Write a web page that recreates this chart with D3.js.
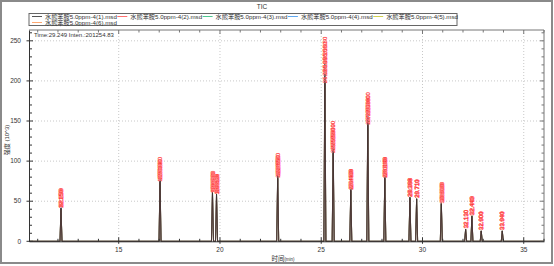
<!DOCTYPE html>
<html>
<head>
<meta charset="utf-8">
<script src="https://cdn.jsdelivr.net/npm/d3@7"></script>
<style>
  body { margin: 0; background: #fff; }
  svg { display: block; font-family: "Liberation Sans", "Noto Sans CJK SC", sans-serif; }
</style>
</head>
<body>
<svg id="canvas" width="554" height="266"></svg>
<script>
// peak retention times (min) and per-run heights (x10^3)
var peakTimes = [12.15, 17.04, 19.63, 19.83, 22.85, 25.18, 25.59, 26.46, 27.30, 28.14, 29.38, 29.71, 30.93, 32.13, 32.44, 32.90, 33.94]
var run1 = [42, 81, 64, 60, 86, 231, 126, 66, 162, 81, 55, 53, 50, 15, 32, 13, 13]
var run2 = [41, 76, 61, 58, 80, 205, 115, 64, 150, 79, 54, 53, 47, 15, 31, 13, 13]
var run3 = [40, 73, 59, 57, 78, 196, 109, 63, 144, 78, 55, 53, 46, 15, 32, 13, 13]
var run4 = [42, 79, 63, 59, 84, 220, 122, 65, 158, 80, 54, 53, 49, 15, 31, 13, 13]
var run5 = [41, 75, 60, 57, 81, 210, 112, 63, 147, 78, 55, 53, 47, 15, 32, 13, 13]
var run6 = [40, 78, 62, 60, 83, 225, 118, 66, 155, 81, 54, 53, 48, 15, 31, 13, 13]
var runNames = ['水熊苯胺5.0ppm-4(1).msd', '水熊苯胺5.0ppm-4(2).msd', '水熊苯胺5.0ppm-4(3).msd',
  '水熊苯胺5.0ppm-4(4).msd', '水熊苯胺5.0ppm-4(5).msd', '水熊苯胺5.0ppm-4(6).msd']
var xTicks = [15, 20, 25, 30, 35]
var yTicks = [0, 50, 100, 150, 200, 250]

var runs = [run1, run2, run3, run4, run5, run6]
var lineColors = ['#303030', '#b03030', '#2e9060', '#3a70c0', '#a8a030', '#e08040']
var legendColors = ['#555555', '#ff7070', '#50c890', '#60a8f0', '#d0d050', '#ffa870']

var svg = d3.select('#canvas')
// plot frame (window.top is read-only, so no "top" here)
var pLeft = 29, pRight = 544, pTop = 30, pBottom = 241.3

var x = d3.scaleLinear().domain([10.57, 36.0]).range([pLeft, pRight])
var y = d3.scaleLinear().domain([0, 263.5]).range([pBottom, pTop])

// outer border
svg.append('rect')
  .attr('x', 1).attr('y', 1).attr('width', 551).attr('height', 262)
  .attr('fill', 'none').attr('stroke', '#8a8a8a').attr('stroke-width', 2)

// title
svg.append('text')
  .attr('x', 262).attr('y', 9)
  .attr('text-anchor', 'middle')
  .attr('font-size', 6.5).attr('fill', '#333')
  .text('TIC')

// legend
svg.append('rect')
  .attr('x', 29).attr('y', 13.5).attr('width', 428).attr('height', 12)
  .attr('fill', '#fff').attr('stroke', '#666').attr('stroke-width', 1)
runNames.forEach(function(name, i) {
  var lx = i < 5 ? 32 + i * 85.3 : 32
  var ly = i < 5 ? 16.5 : 22.5
  svg.append('line')
    .attr('x1', lx).attr('x2', lx + 10).attr('y1', ly).attr('y2', ly)
    .attr('stroke', legendColors[i]).attr('stroke-width', 1)
  svg.append('text')
    .attr('x', lx + 13).attr('y', ly + 2.2)
    .attr('font-size', 6.2).attr('fill', '#333')
    .text(name)
})

// grid
svg.append('g').selectAll('line')
  .data(xTicks)
  .enter().append('line')
  .attr('x1', d => x(d)).attr('x2', d => x(d))
  .attr('y1', pTop).attr('y2', pBottom)
  .attr('stroke', '#c8c8c8').attr('stroke-dasharray', '1,2')
svg.append('g').selectAll('line')
  .data(yTicks.slice(1))
  .enter().append('line')
  .attr('x1', pLeft).attr('x2', pRight)
  .attr('y1', d => y(d)).attr('y2', d => y(d))
  .attr('stroke', '#c8c8c8').attr('stroke-dasharray', '1,2')

// traces, last run first so run 1 sits on top
var w = 0.05
runs.slice().reverse().forEach(function(run, ri) {
  var i = runs.length - 1 - ri
  var pts = [[x.domain()[0], 0]]
  peakTimes.forEach(function(t, k) {
    pts.push([t - w, 0], [t, run[k]], [t + w, 0])
  })
  pts.push([x.domain()[1], 0])
  svg.append('path')
    .datum(pts)
    .attr('fill', 'none')
    .attr('stroke', lineColors[i])
    .attr('stroke-width', 0.7)
    .attr('d', d3.line().x(d => x(d[0])).y(d => y(d[1])))
})

// peak labels
runs.forEach(function(run) {
  peakTimes.forEach(function(t, k) {
    var px = x(t) + 2.2, py = y(run[k]) - 1
    svg.append('text')
      .attr('transform', `translate(${px},${py}) rotate(-90)`)
      .attr('font-size', 6)
      .attr('fill', '#ff1010')
      .attr('stroke', '#ffc0c0').attr('stroke-width', 0.35)
      .style('paint-order', 'stroke')
      .text(t.toFixed(3))
  })
})

// frame
svg.append('line').attr('x1', pLeft).attr('x2', pRight).attr('y1', pTop).attr('y2', pTop)
  .attr('stroke', '#777').attr('stroke-width', 1)
svg.append('line').attr('x1', pRight).attr('x2', pRight).attr('y1', pTop).attr('y2', pBottom)
  .attr('stroke', '#777').attr('stroke-width', 1)

// axes
var yAxis = svg.append('g').attr('transform', `translate(${pLeft},0)`)
yAxis.call(d3.axisLeft(y).tickValues(d3.range(0, 261, 10)).tickSize(0).tickFormat(''))
yAxis.select('.domain').attr('stroke', '#333')
yAxis.selectAll('.tick line').remove()
d3.range(0, 261, 10).forEach(function(v) {
  var major = v % 50 === 0
  yAxis.append('line')
    .attr('x1', major ? -2.5 : 0).attr('x2', major ? 4 : 3)
    .attr('y1', y(v)).attr('y2', y(v))
    .attr('stroke', '#333')
  svg.append('line')
    .attr('x1', pRight).attr('x2', pRight - (major ? 4 : 2.5))
    .attr('y1', y(v)).attr('y2', y(v))
    .attr('stroke', '#777')
})
yTicks.forEach(function(v) {
  svg.append('text')
    .attr('x', 21).attr('y', y(v) + 2.2)
    .attr('text-anchor', 'end')
    .attr('font-size', 6.5).attr('fill', '#333')
    .text(v)
})

var xAxis = svg.append('g').attr('transform', `translate(0,${pBottom})`)
xAxis.call(d3.axisBottom(x).tickValues(xTicks).tickSize(0).tickFormat(''))
xAxis.select('.domain').attr('stroke', '#333')
xAxis.selectAll('.tick line').remove()
d3.range(11, 36.5, 1).forEach(function(v) {
  var major = v % 5 === 0
  xAxis.append('line')
    .attr('x1', x(v)).attr('x2', x(v))
    .attr('y1', major ? 2.5 : 0).attr('y2', major ? -4 : -2.5)
    .attr('stroke', '#333')
  svg.append('line')
    .attr('x1', x(v)).attr('x2', x(v))
    .attr('y1', pTop).attr('y2', pTop + (major ? 4 : 2.5))
    .attr('stroke', '#777')
})
xTicks.forEach(function(v) {
  svg.append('text')
    .attr('x', x(v)).attr('y', 252)
    .attr('text-anchor', 'middle')
    .attr('font-size', 6.5).attr('fill', '#333')
    .text(v)
})

// axis titles
var xt = svg.append('text')
  .attr('x', 283).attr('y', 261)
  .attr('text-anchor', 'middle')
  .attr('fill', '#333')
xt.append('tspan').attr('font-size', 6.5).text('时间')
xt.append('tspan').attr('font-size', 4.5).text('(min)')

svg.append('text')
  .attr('transform', 'translate(9,140) rotate(-90)')
  .attr('text-anchor', 'middle')
  .attr('font-size', 6).attr('fill', '#333')
  .text('强度 (10^3)')

// cursor readout
svg.append('text')
  .attr('x', 34).attr('y', 37)
  .attr('font-size', 6).attr('fill', '#333')
  .text('Time:29.249  Inten.:201254.83')
</script>
</body>
</html>
